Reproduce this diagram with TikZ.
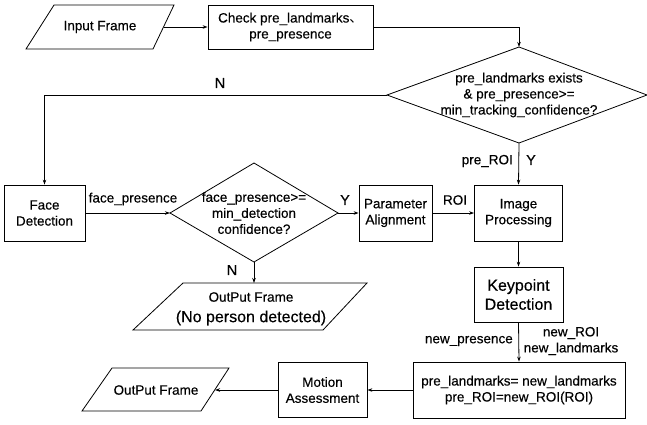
\documentclass[tikz,border=0pt]{standalone}
\usepackage{fontspec}
\setmainfont{Liberation Sans}[FakeBold=0.35]
\newfontfamily\cjk{Noto Sans CJK SC}
\usetikzlibrary{arrows.meta,calc}
\tikzset{
  line/.style={line width=0.8pt},
  arr/.style={line width=0.8pt,-{Stealth[length=5pt,width=3.5pt]}},
  box/.style={draw,line width=0.8pt,align=center,inner sep=1pt,font=\fontsize{13.5}{16}\selectfont},
  lbl/.style={font=\fontsize{13.5}{16}\selectfont,inner sep=1pt,align=center},
  big/.style={font=\fontsize{16}{19}\selectfont},
  yn/.style={font=\fontsize{14.5}{16}\selectfont,inner sep=1pt},
}
\begin{document}
\begin{tikzpicture}[x=1pt,y=-1pt]
\useasboundingbox (0,0) rectangle (647,424);
% Input Frame parallelogram
\draw[line] (54,5) -- (174,5) -- (153,49) -- (26,49) -- cycle;
\node[lbl] (inT) at (100,27) {Input Frame};
\coordinate (inE) at (163.5,27);
% Check box
\node[box,minimum width=165pt,minimum height=44pt] (check) at (290.5,27)
  {Check pre\_landmarks{\cjk 、}\\pre\_presence};
% Diamond 1
\coordinate (d1n) at (519,47);
\coordinate (d1w) at (387,95);
\coordinate (d1e) at (647,95);
\coordinate (d1s) at (519,143);
\draw[line] (d1n) -- (d1e) -- (d1s) -- (d1w) -- cycle;
\node[lbl] (d1t) at (519,95) {pre\_landmarks exists\\\& pre\_presence>=\\min\_tracking\_confidence?};
% Face detection
\node[box,minimum width=81pt,minimum height=56pt] (face) at (44.5,213) {Face\\Detection};
% Diamond 2
\coordinate (d2n) at (254,163);
\coordinate (d2w) at (170,213);
\coordinate (d2e) at (338,213);
\coordinate (d2s) at (254,262);
\draw[line] (d2n) -- (d2e) -- (d2s) -- (d2w) -- cycle;
\node[lbl] (d2t) at (254,213) {face\_presence>=\\min\_detection\\confidence?};
% Parameter alignment
\node[box,minimum width=73pt,minimum height=56pt] (param) at (395.5,213) {Parameter\\Alignment};
% Image processing
\node[box,minimum width=88pt,minimum height=56pt] (img) at (518.5,213) {Image\\Processing};
% Keypoint detection
\node[box,big,minimum width=89pt,minimum height=55pt] (kp) at (518.5,294.5) {Keypoint\\Detection};
% Update box
\node[box,minimum width=212pt,minimum height=56pt] (upd) at (519,390) {pre\_landmarks=\ new\_landmarks\\pre\_ROI=new\_ROI(ROI)};
% Motion assessment
\node[box,minimum width=89pt,minimum height=55pt] (mot) at (322.5,390) {Motion\\Assessment};
% OutPut Frame (bottom left)
\draw[line] (112,368) -- (229,368) -- (201,411) -- (82,411) -- cycle;
\node[lbl] (o1t) at (156,390) {OutPut Frame};
\coordinate (o1E) at (215,390);
% OutPut Frame (no person)
\draw[line] (183,283) -- (367,283) -- (323,330) -- (133,330) -- cycle;
\node[lbl] (o2t) at (251,297) {OutPut Frame};
\node[lbl,big] (o2t2) at (251,318) {(No person detected)};
\coordinate (o2N) at (254,283);
% Connectors
\draw[arr] (inE) -- (check.west);
\draw[arr] (check.east) -| (d1n);
\draw[arr] (d1w) -| (face.north);
\node[yn] (nlab) at (220,83) {N};
\draw[arr] (face.east) -- (d2w);
\node[lbl] (fpl) at (133,199) {face\_presence};
\draw[arr] (d2e) -- (param.west);
\node[yn] (ylab2) at (345,200) {Y};
\draw[arr] (param.east) -- (img.west);
\node[lbl] (roil) at (455,200) {ROI};
\draw[arr] (d1s) -- (img.north);
\node[lbl,anchor=east] (prl) at (514,161) {pre\_ROI};
\node[yn] (ylab1) at (531,160) {Y};
\draw[arr] (img.south) -- (kp.north);
\draw[arr] (kp.south) -- (upd.north);
\node[lbl,anchor=east] (npl) at (514,341) {new\_presence};
\node[lbl] (nrl) at (571,341) {new\_ROI\\new\_landmarks};
\draw[arr] (upd.west) -- (mot.east);
\draw[arr] (mot.west) -- (o1E);
\draw[arr] (d2s) -- (o2N);
\node[yn] (nlab2) at (232,270) {N};
\end{tikzpicture}
\end{document}
